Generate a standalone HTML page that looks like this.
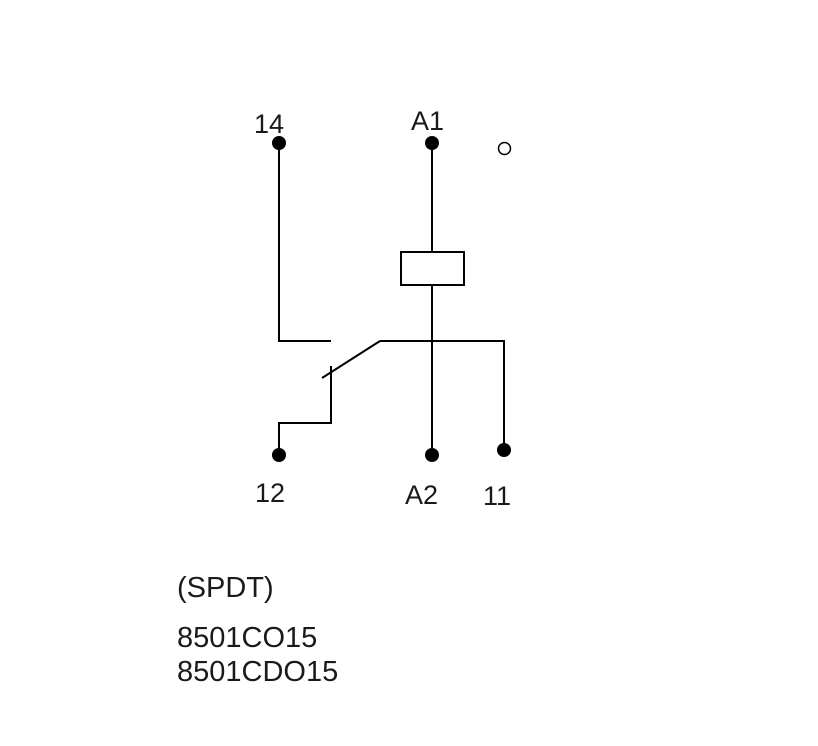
<!DOCTYPE html>
<html><head><style>
html,body{margin:0;padding:0;background:#fff;}
svg{display:block}
text{font-family:"Liberation Sans",Arial,sans-serif;fill:#1a1a1a}
</style></head><body>
<svg width="818" height="746" viewBox="0 0 818 746" xmlns="http://www.w3.org/2000/svg">
<rect width="818" height="746" fill="#fff"/>
<g stroke="#000" stroke-width="2" fill="none">
<polyline points="279,143 279,341 331,341"/>
<line x1="432" y1="143" x2="432" y2="252"/>
<rect x="401" y="252" width="63" height="33"/>
<line x1="432" y1="285" x2="432" y2="455"/>
<polyline points="380,341 504,341 504,450"/>
<line x1="380" y1="341" x2="322" y2="378"/>
<polyline points="331,366 331,423 279,423 279,455"/>
<circle cx="504.5" cy="148.5" r="6" stroke-width="1.5"/>
</g>
<g fill="#000">
<circle cx="279" cy="143" r="7"/>
<circle cx="432" cy="143" r="7"/>
<circle cx="279" cy="455" r="7"/>
<circle cx="432" cy="455" r="7"/>
<circle cx="504" cy="450" r="7"/>
</g>
<g font-size="27">
<text x="254" y="133">14</text>
<text x="411" y="130">A1</text>
<text x="255" y="502">12</text>
<text x="405" y="504">A2</text>
<text x="483" y="505">11</text>
</g>
<g font-size="29">
<text x="177" y="597">(SPDT)</text>
<text x="177" y="647">8501CO15</text>
<text x="177" y="681">8501CDO15</text>
</g>
</svg>
</body></html>
